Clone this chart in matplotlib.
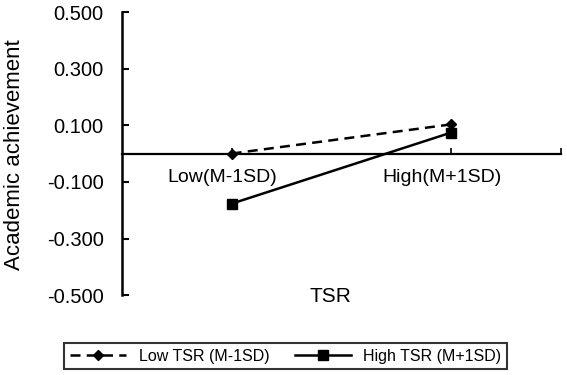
import matplotlib

matplotlib.use("Agg")
import matplotlib.pyplot as plt
from matplotlib.transforms import ScaledTranslation

CATEGORIES = ["Low(M-1SD)", "High(M+1SD)"]
LOW_TSR = [0.000, 0.103]
HIGH_TSR = [-0.177, 0.074]
SERIES_LABELS = ["Low TSR (M-1SD)", "High TSR (M+1SD)"]
Y_TICKS = [-0.5, -0.3, -0.1, 0.1, 0.3, 0.5]

plt.rcParams["font.family"] = ["Liberation Sans", "DejaVu Sans"]

figure = plt.figure(figsize=(5.67, 3.75), dpi=100, facecolor="white")
axis = figure.add_axes([0.215, 0.213, 0.774, 0.755])

x_positions = list(range(len(CATEGORIES)))
axis.plot(
    x_positions, LOW_TSR, color="black", linestyle=(0, (4, 2.5)), linewidth=1.8,
    marker="D", markersize=5.5, label=SERIES_LABELS[0],
)
axis.plot(
    x_positions, HIGH_TSR, color="black", linestyle="-", linewidth=1.8,
    marker="s", markersize=6.5, label=SERIES_LABELS[1],
)

axis.set_xlim(-0.5, 1.5)
axis.set_ylim(-0.5, 0.5)
axis.set_yticks(Y_TICKS)
axis.set_yticklabels([f"{value:.3f}" for value in Y_TICKS])
axis.set_xticks(x_positions + [1.5])
axis.set_xticklabels(CATEGORIES + [""])

for name in ("top", "right"):
    axis.spines[name].set_visible(False)
axis.spines["bottom"].set_position(("data", 0))
axis.spines["left"].set_linewidth(1.8)
axis.spines["bottom"].set_linewidth(1.6)
axis.tick_params(axis="y", direction="in", length=5, width=1.5, pad=13, labelsize=14.5)
axis.tick_params(axis="x", direction="in", length=4, width=1.2, pad=11, labelsize=14)

# category labels sit a little left of their ticks in the original
shift = ScaledTranslation(-0.09, 0, figure.dpi_scale_trans)
for label in axis.get_xticklabels():
    label.set_transform(label.get_transform() + shift)

figure.text(330 / 567, 1 - 297 / 375, "TSR", fontsize=15, ha="center", va="center")
figure.text(
    0.026, 1 - 155 / 375, "Academic achievement", fontsize=16,
    rotation=90, ha="center", va="center",
)

legend = figure.legend(
    loc="center", bbox_to_anchor=(0.504, 0.05), ncol=2, fontsize=11.5,
    frameon=True, fancybox=False, edgecolor="black", handlelength=3.5,
    columnspacing=1.6, borderpad=0.35,
)
legend.get_frame().set_linewidth(1.5)

figure.savefig("out.png", dpi=100, facecolor="white")
